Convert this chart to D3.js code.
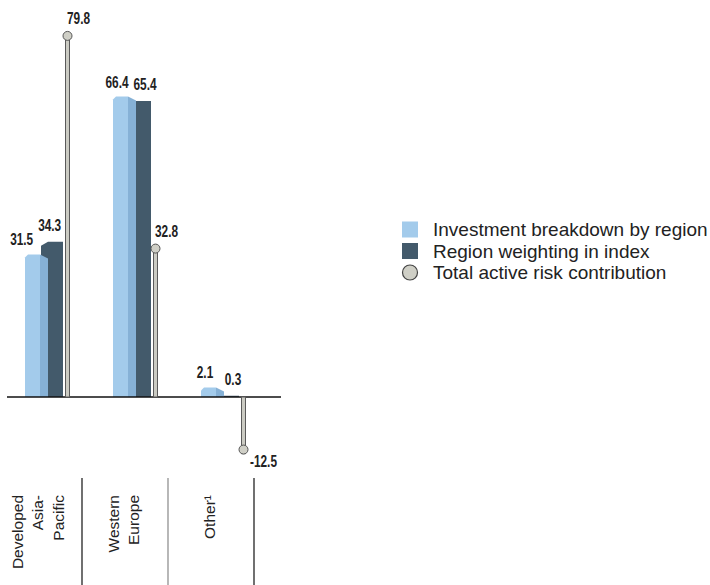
<!DOCTYPE html>
<html>
<head>
<meta charset="utf-8">
<script src="https://cdn.jsdelivr.net/npm/d3@7"></script>
<style>
  html, body { margin: 0; padding: 0; background: #fff; }
  svg { display: block; }
</style>
</head>
<body>
<svg id="chart" width="710" height="585"></svg>
<script>
// ---- data ----
const categories = ["Developed Asia-Pacific", "Western Europe", "Other¹"];
const categoryLines = [["Developed", "Asia-", "Pacific"], ["Western", "Europe"], ["Other¹"]];
const investment = [31.5, 66.4, 2.1];
const weighting = [34.3, 65.4, 0.3];
const risk = [79.8, 32.8, -12.5];
const seriesNames = ["Investment breakdown by region", "Region weighting in index", "Total active risk contribution"];

// ---- styles ----
const cLight = "#a3cbeb", cLightSide = "#86b1d6", cDark = "#435a6b";
const cPole = "#cbcbc3", cPoleStroke = "#5a5a5a";
const valueFont = "'Liberation Sans', Arial, sans-serif";
const textFont = "'Liberation Sans', Arial, Helvetica, sans-serif";
const valueSize = 16, valueSX = 0.74;

const svg = d3.select("#chart");

const y = d3.scaleLinear().domain([0, 80]).range([397, 35]);
const xBar = d3.scaleBand().domain(categories).range([25, 25 + 88 * 3]).paddingInner(0);
const xLab = d3.scaleBand().domain(categories).range([-4, -4 + 86 * 3]).paddingInner(0);

const frontW = 15, sideW = 8, darkW = 15, poleOff = 42.5;
const y0 = y(0);

const g = svg.append("g");

categories.forEach((c, i) => {
  const x0 = xBar(c);
  const yL = y(investment[i]);
  const yD = y(weighting[i]);
  const chamf = Math.min(3, Math.max(0, y0 - yL));
  const chamfD = Math.min(4, Math.max(0, y0 - yD));
  // dark bar (behind)
  g.append("path")
    .attr("d", `M${x0 + frontW + 1},${yD + chamfD} L${x0 + frontW + sideW},${yD} L${x0 + frontW + sideW + darkW},${yD} L${x0 + frontW + sideW + darkW},${y0} L${x0 + frontW + 1},${y0} Z`)
    .attr("fill", cDark);
  // light bar side
  g.append("path")
    .attr("d", `M${x0 + frontW},${yL} L${x0 + frontW + sideW},${Math.min(y0, yL + chamf + 1)} L${x0 + frontW + sideW},${y0} L${x0 + frontW},${y0} Z`)
    .attr("fill", cLightSide);
  // light bar front
  g.append("path")
    .attr("d", `M${x0},${yL + chamf} L${x0 + chamf},${yL} L${x0 + frontW},${yL} L${x0 + frontW},${y0} L${x0},${y0} Z`)
    .attr("fill", cLight);
});

// axis baseline
svg.append("line")
  .attr("x1", 7).attr("x2", 281)
  .attr("y1", y0).attr("y2", y0)
  .attr("stroke", "#111").attr("stroke-width", 1.3);

// risk poles
categories.forEach((c, i) => {
  const px = xBar(c) + poleOff;
  const yv = y(risk[i]);
  const top = Math.min(y0, yv), h = Math.abs(y0 - yv);
  svg.append("rect")
    .attr("x", px - 2).attr("y", top).attr("width", 4).attr("height", h)
    .attr("fill", cPole).attr("stroke", cPoleStroke).attr("stroke-width", 1);
  svg.append("circle")
    .attr("cx", px).attr("cy", risk[i] >= 0 ? yv : yv - 4).attr("r", 4.5)
    .attr("fill", "#cfcfc6").attr("stroke", "#555").attr("stroke-width", 1);
});

// value labels (condensed bold via horizontal scaling)
const vl = svg.append("g")
  .attr("font-family", valueFont).attr("font-weight", "bold")
  .attr("font-size", valueSize).attr("fill", "#222");

function valueLabel(x, yy, anchor, txt) {
  vl.append("text")
    .attr("transform", `translate(${x},${yy}) scale(${valueSX},1)`)
    .attr("text-anchor", anchor).text(txt);
}
const estW = t => t.length * 0.5 * valueSize * valueSX;

categories.forEach((c, i) => {
  const x0 = xBar(c);
  const px = x0 + poleOff, yv = y(risk[i]);
  const yLab = y(investment[i]) - 9;
  const yDLab = y(weighting[i]) - 11;
  let dx = x0 + 32, lx = x0 + 4;
  const dTxt = weighting[i].toFixed(1);
  // keep the weighting label clear of a tall risk pole
  if (risk[i] > 0 && yv < yDLab) {
    const maxCenter = px - 6 - estW(dTxt) / 2;
    if (dx > maxCenter) { const s = dx - maxCenter; dx -= s; lx -= s; }
  }
  valueLabel(lx, yLab, "middle", investment[i].toFixed(1));
  valueLabel(dx, yDLab, "middle", dTxt);
  if (risk[i] >= 0) valueLabel(px - 0.5, yv - 12, "start", risk[i].toFixed(1));
  else valueLabel(px + 6.5, yv + 13, "start", risk[i].toFixed(1));
});

// category labels and separators
categories.forEach((c, i) => {
  const m = xLab(c) + xLab.bandwidth() / 2;
  const lines = categoryLines[i];
  const n = lines.length;
  lines.forEach((t, j) => {
    const bx = m + 4 + (j - (n - 1) / 2) * 20.5;
    svg.append("text")
      .attr("transform", `translate(${bx},495) rotate(-90)`)
      .attr("text-anchor", "end")
      .attr("font-family", textFont).attr("font-size", 15.5).attr("fill", "#222")
      .text(t);
  });
  svg.append("line")
    .attr("x1", xLab(c) + xLab.bandwidth()).attr("x2", xLab(c) + xLab.bandwidth())
    .attr("y1", 478).attr("y2", 585)
    .attr("stroke", i === 1 ? "#888" : "#111").attr("stroke-width", 1.2);
});

// legend
const leg = svg.append("g").attr("font-family", textFont).attr("font-size", 19).attr("fill", "#222");
const legY = [229.5, 251, 272.5];
const legColors = [cLight, cDark];
seriesNames.forEach((s, i) => {
  if (i < 2) {
    leg.append("rect").attr("x", 402).attr("y", legY[i] - 8).attr("width", 16).attr("height", 16)
      .attr("fill", legColors[i]);
  } else {
    leg.append("circle").attr("cx", 410).attr("cy", legY[i]).attr("r", 7.5)
      .attr("fill", "#cfcfc6").attr("stroke", "#444").attr("stroke-width", 1.2);
  }
  leg.append("text").attr("x", 433).attr("y", legY[i]).attr("dy", "0.35em").text(s);
});
</script>
</body>
</html>
